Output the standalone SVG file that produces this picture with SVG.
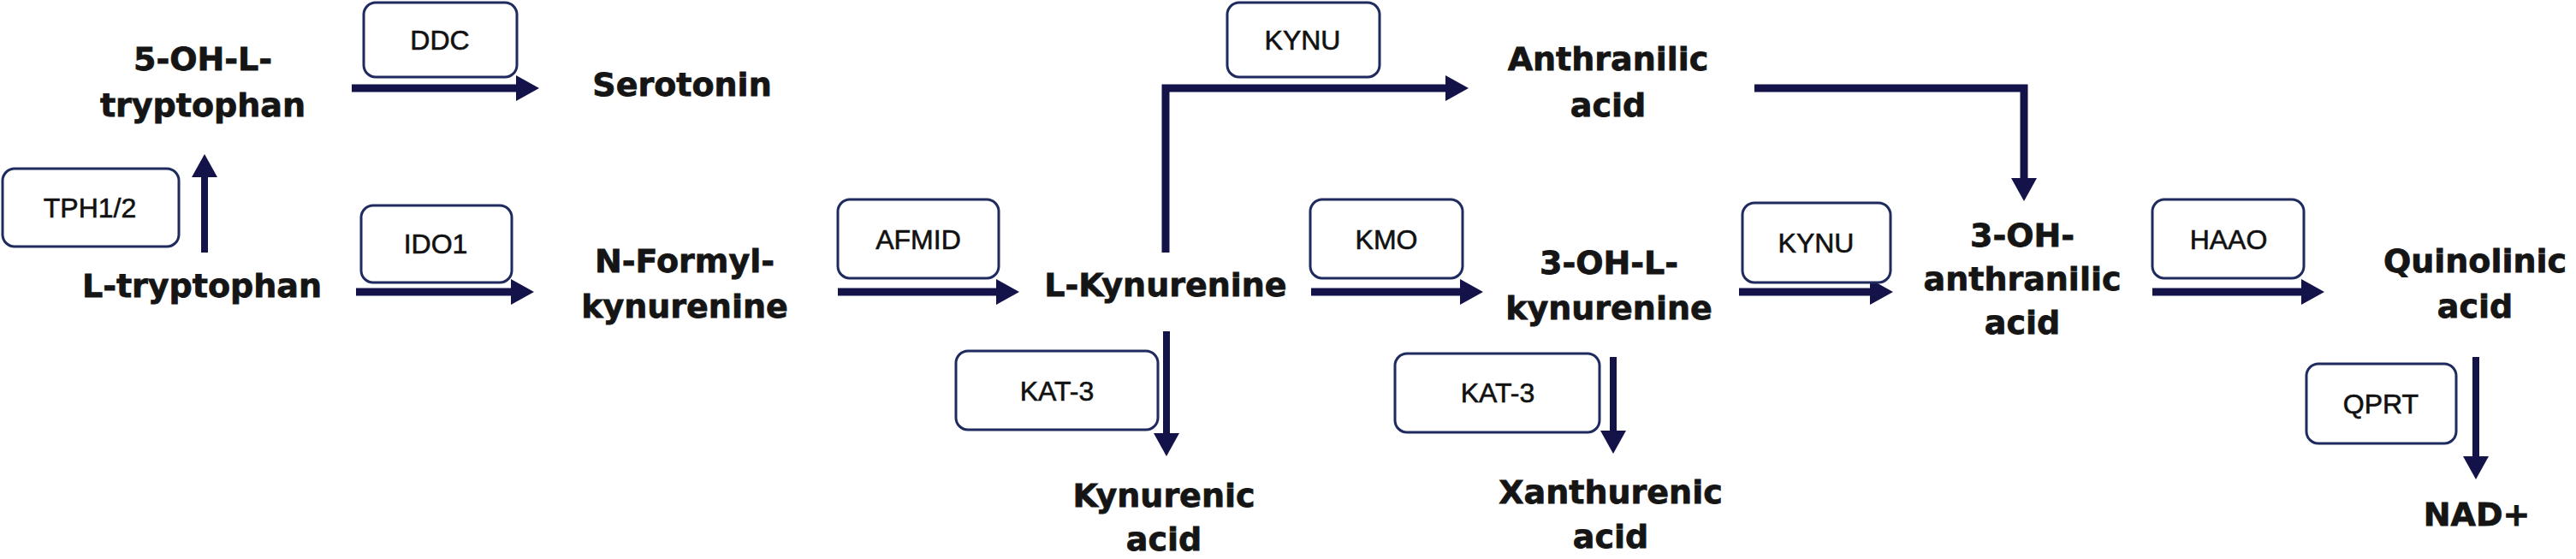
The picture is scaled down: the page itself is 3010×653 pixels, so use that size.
<svg xmlns="http://www.w3.org/2000/svg" width="3010" height="653" viewBox="0 0 3010 653">
<style>
.bg{fill:#ffffff}
.box{fill:#ffffff;stroke:#1f2b5e;stroke-width:3}
.enz{font-family:"Liberation Sans",Arial,sans-serif;font-size:32px;fill:#111111;stroke:#111111;stroke-width:0.6;text-anchor:middle}
.met{font-family:"DejaVu Sans",sans-serif;font-weight:bold;font-size:38px;fill:#151515;stroke:#151515;stroke-width:0.8;text-anchor:middle}
.arr{fill:none;stroke:#13134a;stroke-width:9;stroke-linejoin:miter;marker-end:url(#head)}
.arr.v{stroke-width:8}
</style>
<defs>
<marker id="head" markerUnits="userSpaceOnUse" markerWidth="28" markerHeight="30" refX="0" refY="15" orient="auto" viewBox="0 0 28 30">
<path d="M0,0 L27,15 L0,30 z" fill="#13134a"/>
</marker>
</defs>
<rect class="bg" x="0" y="0" width="3010" height="653"/>

<g id="connectors">
<path class="arr v" d="M239,295 V207"/>
<path class="arr" d="M411,103 H603"/>
<path class="arr" d="M416,341 H597"/>
<path class="arr" d="M979,341 H1164"/>
<path class="arr" d="M1362,295 V103 H1689"/>
<path class="arr" d="M1532,341 H1706"/>
<path class="arr v" d="M1363,387 V506"/>
<path class="arr v" d="M1885,417 V503"/>
<path class="arr" d="M2050,103 H2365 V208"/>
<path class="arr" d="M2032,341 H2185"/>
<path class="arr" d="M2515,341 H2689"/>
<path class="arr v" d="M2893,417 V533"/>
</g>

<g id="enz-tph"><rect class="box" x="3" y="197" width="206" height="91" rx="14"/><text class="enz" x="105" y="254">TPH1/2</text></g>
<g id="enz-ddc"><rect class="box" x="425" y="3" width="179" height="87" rx="14"/><text class="enz" x="514" y="58">DDC</text></g>
<g id="enz-ido1"><rect class="box" x="422" y="240" width="176" height="90" rx="14"/><text class="enz" x="509" y="296">IDO1</text></g>
<g id="enz-afmid"><rect class="box" x="979" y="233" width="188" height="92" rx="14"/><text class="enz" x="1073" y="291">AFMID</text></g>
<g id="enz-kynu1"><rect class="box" x="1434" y="3" width="178" height="87" rx="14"/><text class="enz" x="1522" y="58">KYNU</text></g>
<g id="enz-kmo"><rect class="box" x="1531" y="233" width="178" height="92" rx="14"/><text class="enz" x="1620" y="291">KMO</text></g>
<g id="enz-kat3a"><rect class="box" x="1117" y="410" width="236" height="92" rx="14"/><text class="enz" x="1235" y="468">KAT-3</text></g>
<g id="enz-kat3b"><rect class="box" x="1630" y="413" width="239" height="92" rx="14"/><text class="enz" x="1750" y="470">KAT-3</text></g>
<g id="enz-kynu2"><rect class="box" x="2036" y="237" width="173" height="93" rx="14"/><text class="enz" x="2122" y="295">KYNU</text></g>
<g id="enz-haao"><rect class="box" x="2515" y="233" width="177" height="92" rx="14"/><text class="enz" x="2604" y="291">HAAO</text></g>
<g id="enz-qprt"><rect class="box" x="2695" y="425" width="175" height="93" rx="14"/><text class="enz" x="2782" y="483">QPRT</text></g>

<g id="n-5oh"><text class="met" x="237" y="82">5-OH-L-</text><text class="met" x="237" y="136">tryptophan</text></g>
<g id="n-serotonin"><text class="met" x="797" y="112">Serotonin</text></g>
<g id="n-ltrp"><text class="met" x="236" y="347">L-tryptophan</text></g>
<g id="n-nfk"><text class="met" x="800" y="318">N-Formyl-</text><text class="met" x="800" y="371">kynurenine</text></g>
<g id="n-lkyn"><text class="met" x="1362" y="346">L-Kynurenine</text></g>
<g id="n-anth"><text class="met" x="1879" y="82">Anthranilic</text><text class="met" x="1879" y="136">acid</text></g>
<g id="n-3ohk"><text class="met" x="1880" y="320">3-OH-L-</text><text class="met" x="1880" y="373">kynurenine</text></g>
<g id="n-kyna"><text class="met" x="1360" y="592">Kynurenic</text><text class="met" x="1360" y="643">acid</text></g>
<g id="n-xa"><text class="met" x="1882" y="588">Xanthurenic</text><text class="met" x="1882" y="640">acid</text></g>
<g id="n-3haa"><text class="met" x="2363" y="288">3-OH-</text><text class="met" x="2363" y="339">anthranilic</text><text class="met" x="2363" y="390">acid</text></g>
<g id="n-quin"><text class="met" x="2892" y="318">Quinolinic</text><text class="met" x="2892" y="371">acid</text></g>
<g id="n-nad"><text class="met" x="2894" y="614">NAD+</text></g>
</svg>
